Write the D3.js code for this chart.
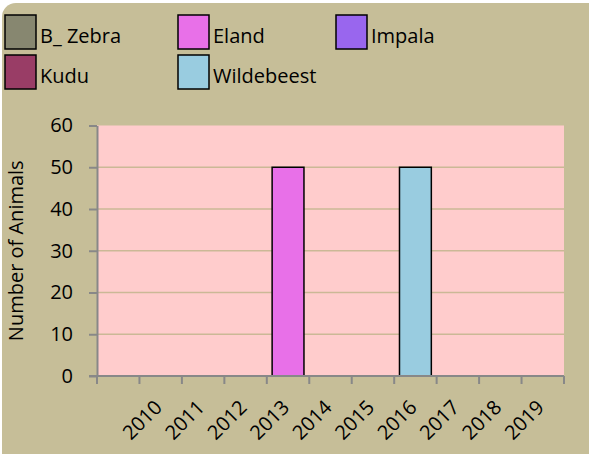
<!DOCTYPE html>
<html>
<head>
<meta charset="utf-8">
<script src="https://cdn.jsdelivr.net/npm/d3@7"></script>
<style>
  body { margin: 0; background: #fff; }
  svg { display: block; font-family: "Open Sans", sans-serif; }
</style>
</head>
<body>
<svg width="589" height="454"></svg>
<script>
// categories (first slot on the axis is left blank, as in the original)
const years = ["", "2010", "2011", "2012", "2013", "2014", "2015", "2016", "2017", "2018", "2019"];
const seriesNames = ["B_ Zebra", "Eland", "Impala", "Kudu", "Wildebeest"];
const seriesColors = ["#878770", "#e870e8", "#9966ee", "#993d66", "#99cce0"];
const zebra      = [0, 0, 0, 0, 0, 0, 0, 0, 0, 0, 0];
const eland      = [0, 0, 0, 0, 50, 0, 0, 0, 0, 0, 0];
const impala     = [0, 0, 0, 0, 0, 0, 0, 0, 0, 0, 0];
const kudu       = [0, 0, 0, 0, 0, 0, 0, 0, 0, 0, 0];
const wildebeest = [0, 0, 0, 0, 0, 0, 0, 50, 0, 0, 0];
const yTicks = [0, 10, 20, 30, 40, 50, 60];

const table = years.map((y, i) => ({
  year: y,
  "B_ Zebra": zebra[i],
  "Eland": eland[i],
  "Impala": impala[i],
  "Kudu": kudu[i],
  "Wildebeest": wildebeest[i]
}));

const svg = d3.select("svg");
const width = 589, height = 454;
const margin = { left: 97, top: 125.5, right: 25, bottom: 78 };
const fontSize = "20px";

// chart background with rounded corners
svg.append("rect")
  .attr("x", 2).attr("y", 3)
  .attr("width", 600).attr("height", 470)
  .attr("rx", 14)
  .attr("fill", "#c6be98");

const x = d3.scaleBand()
  .domain(years)
  .range([margin.left, width - margin.right])
  .paddingInner(0.25)
  .paddingOuter(0.125);

const y = d3.scaleLinear()
  .domain([0, 60])
  .range([height - margin.bottom, margin.top]);

// plot area
svg.append("rect")
  .attr("x", margin.left).attr("y", margin.top)
  .attr("width", width - margin.right - margin.left)
  .attr("height", y(0) - margin.top)
  .attr("fill", "#ffcccc");

// gridlines
svg.append("g")
  .selectAll("line")
  .data(yTicks.filter(d => d > 0 && d < 60))
  .join("line")
  .attr("x1", margin.left).attr("x2", width - margin.right)
  .attr("y1", d => y(d)).attr("y2", d => y(d))
  .attr("stroke", "#cbb896")
  .attr("stroke-width", 1.5);

// stacked bars
const stack = d3.stack().keys(seriesNames)(table);
const color = d3.scaleOrdinal().domain(seriesNames).range(seriesColors);

svg.append("g")
  .selectAll("g")
  .data(stack)
  .join("g")
  .attr("fill", d => color(d.key))
  .selectAll("rect")
  .data(d => d.filter(p => p[1] - p[0] > 0))
  .join("rect")
  .attr("x", d => x(d.data.year))
  .attr("width", x.bandwidth())
  .attr("y", d => y(d[1]))
  .attr("height", d => y(d[0]) - y(d[1]))
  .attr("stroke", "#000")
  .attr("stroke-width", 1.5);

// y axis
const yAxis = svg.append("g")
  .attr("transform", `translate(${margin.left},0)`)
  .call(d3.axisLeft(y).tickValues(yTicks).tickSize(8).tickPadding(16).tickSizeOuter(0));
yAxis.select(".domain").attr("stroke", "#888").attr("stroke-width", 2);
yAxis.selectAll(".tick line").attr("stroke", "#888").attr("stroke-width", 2);
yAxis.selectAll("text")
  .attr("fill", "#000")
  .style("font-size", fontSize)
  .style("font-family", "Open Sans, sans-serif");

// x axis: ticks at category boundaries
const step = x.step();
const bounds = d3.range(years.length + 1).map(i => margin.left + i * step);
const xAxis = svg.append("g");
xAxis.append("line")
  .attr("x1", margin.left - 8).attr("x2", width - margin.right)
  .attr("y1", y(0)).attr("y2", y(0))
  .attr("stroke", "#888").attr("stroke-width", 2);
xAxis.selectAll("line.tk")
  .data(bounds)
  .join("line")
  .attr("class", "tk")
  .attr("x1", d => d).attr("x2", d => d)
  .attr("y1", y(0)).attr("y2", y(0) + 8)
  .attr("stroke", "#888").attr("stroke-width", 2);

xAxis.selectAll("text")
  .data(years.filter(d => d !== ""))
  .join("text")
  .attr("transform", d => `translate(${x(d) + x.bandwidth() / 2 - 8},${y(0) + 22}) rotate(-45)`)
  .attr("text-anchor", "end")
  .attr("dy", "0.75em")
  .style("font-size", fontSize)
  .text(d => d);

// y axis title
svg.append("text")
  .attr("transform", `translate(23,${(margin.top + y(0)) / 2}) rotate(-90)`)
  .attr("text-anchor", "middle")
  .style("font-size", fontSize)
  .text("Number of Animals");

// legend
const legendPos = [[5, 15], [178, 15], [336, 15], [5, 55], [178, 55]];
const legend = svg.append("g")
  .selectAll("g")
  .data(seriesNames)
  .join("g")
  .attr("transform", (d, i) => `translate(${legendPos[i][0]},${legendPos[i][1]})`);
legend.append("rect")
  .attr("width", 31).attr("height", 34)
  .attr("fill", d => color(d))
  .attr("stroke", "#000")
  .attr("stroke-width", 1.5);
legend.append("text")
  .attr("x", 35).attr("y", 28)
  .style("font-size", fontSize)
  .text(d => d);
</script>
</body>
</html>
